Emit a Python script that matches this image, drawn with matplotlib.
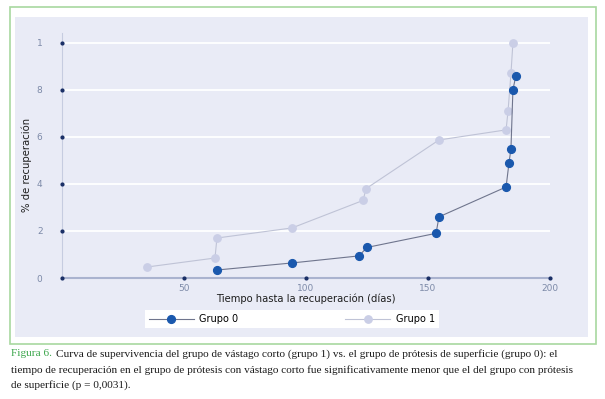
import matplotlib.pyplot as plt
from matplotlib.patches import Rectangle

# Datos (tiempo en días, fracción recuperada)
dias_g0 = [63.5, 94.3, 121.7, 125.0, 153.3, 154.5, 182.0, 183.2, 184.0, 184.8, 186.0]
rec_g0 = [0.034, 0.064, 0.094, 0.13, 0.19, 0.26, 0.387, 0.49, 0.55, 0.80, 0.86]

dias_g1 = [35.0, 62.7, 63.5, 94.3, 123.4, 124.6, 154.5, 182.0, 182.8, 184.0, 184.8]
rec_g1 = [0.047, 0.085, 0.17, 0.213, 0.33, 0.38, 0.587, 0.63, 0.71, 0.87, 1.0]

xticks = [50, 100, 150, 200]
yticks = [0, 0.2, 0.4, 0.6, 0.8, 1.0]
ylabels = ["0", "2", "4", "6", "8", "1"]

W, H = 605, 399
fig = plt.figure(figsize=(6.05, 3.99), dpi=100, facecolor="white")

# marco verde y fondo lavanda (detrás de los ejes)
fig.patches.append(Rectangle((9.5 / W, 1 - 344 / H), 586 / W, 337 / H, transform=fig.transFigure,
                             facecolor="white", edgecolor="#a8d8a0", lw=1.2, zorder=-10))
fig.patches.append(Rectangle((15 / W, 1 - 337 / H), 573 / W, 320 / H, transform=fig.transFigure,
                             facecolor="#e9ebf6", edgecolor="none", zorder=-9))

ax = fig.add_axes([62 / W, 1 - 278 / H, 488 / W, 245 / H])
ax.patch.set_alpha(0)
ax.set_xlim(0, 200)
ax.set_ylim(0, 1.042)

for y in yticks[1:]:
    ax.axhline(y, color="white", lw=1.3, zorder=0)

ax.plot(dias_g0, rec_g0, "-o", color="#6f758d", lw=0.8, markersize=5.6,
        markerfacecolor="#1a58ad", markeredgecolor="#1a58ad", label="Grupo 0", zorder=3)
ax.plot(dias_g1, rec_g1, "-o", color="#bfc3d6", lw=0.8, markersize=5.3,
        markerfacecolor="#cacee6", markeredgecolor="#cacee6", label="Grupo 1", zorder=2)

for s in ["top", "right"]:
    ax.spines[s].set_visible(False)
ax.spines["left"].set_color("#c6cce0")
ax.spines["bottom"].set_color("#aab3cf")
ax.spines["bottom"].set_linewidth(1.5)

ax.set_xticks(xticks)
ax.set_xticklabels([str(t) for t in xticks])
ax.set_yticks(yticks)
ax.set_yticklabels(ylabels)
ax.tick_params(length=0, labelsize=6.5, labelcolor="#7d8aa8")
ax.tick_params(axis="y", pad=14)
ax.tick_params(axis="x", pad=4)
# puntitos en las marcas
ax.plot([0] * len(yticks), yticks, "o", color="#1a2f66", markersize=2, clip_on=False, zorder=4)
ax.plot(xticks, [0] * len(xticks), "o", color="#1a2f66", markersize=2, clip_on=False, zorder=4)

ax.set_xlabel("Tiempo hasta la recuperación (días)", fontsize=7.2, color="#1e1e1e", labelpad=1)
ax.set_ylabel("% de recuperación", fontsize=7.3, color="#1e1e1e")
ax.yaxis.set_label_coords(-0.062, 0.46)

leg = ax.legend(loc="center", bbox_to_anchor=(292 / W, 1 - 319 / H), bbox_transform=fig.transFigure,
                ncol=2, frameon=True, fancybox=False, fontsize=7, handlelength=4.6,
                columnspacing=11, borderpad=0.4, handletextpad=0.6, borderaxespad=0)
leg.get_frame().set_facecolor("white")
leg.get_frame().set_edgecolor("none")
leg.get_frame().set_alpha(1)

# pie de figura
fs = 8.1
fig.text(11 / W, 1 - 354 / H, "Figura 6.", color="#3aa54a", fontsize=fs,
         family="Liberation Serif", va="center")
fig.text(56 / W, 1 - 354 / H,
         "Curva de supervivencia del grupo de vástago corto (grupo 1) vs. el grupo de prótesis de superficie (grupo 0): el",
         color="#1a1a1a", fontsize=fs, family="Liberation Serif", va="center")
fig.text(11 / W, 1 - 370 / H,
         "tiempo de recuperación en el grupo de prótesis con vástago corto fue significativamente menor que el del grupo con prótesis",
         color="#1a1a1a", fontsize=fs, family="Liberation Serif", va="center")
fig.text(11 / W, 1 - 385 / H, "de superficie (p = 0,0031).",
         color="#1a1a1a", fontsize=fs, family="Liberation Serif", va="center")

fig.savefig("out.png", dpi=100, facecolor="white")
